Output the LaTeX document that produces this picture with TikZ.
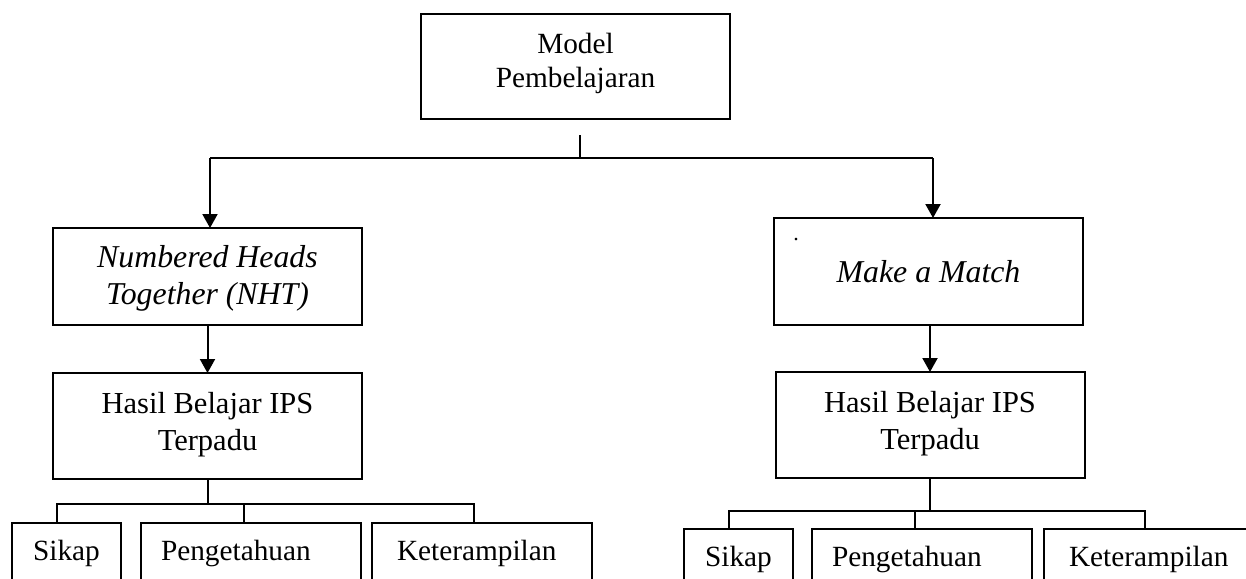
\documentclass[tikz,border=0pt]{standalone}
\usepackage{fontspec}
\setmainfont{Liberation Serif}
\usetikzlibrary{arrows.meta}

\begin{document}
\begin{tikzpicture}[x=1pt, y=-1pt, line width=2pt,
    font=\fontsize{29.3pt}{34pt}\selectfont,
    box/.style={draw, align=center, inner sep=0pt, outer sep=0pt, minimum width=309pt},
    big/.style={font=\fontsize{30.5pt}{37pt}\selectfont},
    slant/.style={font=\fontsize{31.8pt}{37pt}\selectfont\itshape},
    leaf/.style={draw, anchor=north west, align=left, inner xsep=20pt, inner ysep=0pt,
      outer sep=0pt, text height=37pt, text depth=70pt},
    arr/.style={-{Triangle[length=14pt, width=15pt]}}]
  \useasboundingbox (0,0) rectangle (1246,578);
  \clip (0,0) rectangle (1246,578);
  % top
  \node[box, minimum height=105pt, text depth=13pt] (model) at (575.5,66.5) {Model\\Pembelajaran};
  \coordinate (stem) at (580,135);
  \coordinate (jl) at (210,158);
  \coordinate (jr) at (933,158);
  \draw (stem) -- (stem |- jl);
  \draw (jl) -- (jr);
  % left branch
  \node[box, slant, minimum height=97pt, text depth=3.7pt] (nht) at (207.5,276.5) {Numbered Heads\\Together (NHT)};
  \node[box, big, minimum height=106pt, text depth=9.7pt] (hbl) at (207.5,426) {Hasil Belajar IPS\\Terpadu};
  \node[leaf, text width=69pt, align=center] (skl) at (12,523) {Sikap};
  \node[leaf, text width=180pt] (pgl) at (141,523) {Pengetahuan};
  \node[leaf, text width=170pt, inner xsep=25pt] (ktl) at (372,523) {Keterampilan};
  \draw[arr] (jl) -- (jl |- nht.north);
  \draw[arr] (nht.south) -- (hbl.north);
  \draw (hbl.south) -- (hbl.south |- 0,504);
  \draw ([xshift=45pt]skl.north west) -- ++(0,-19) -| ([xshift=102pt]ktl.north west);
  \draw ([xshift=103pt]pgl.north west) -- ++(0,-19);
  % right branch
  \node[box, slant, minimum height=107pt] (mam) at (928.5,271.5) {Make a Match};
  \node[font=\fontsize{22pt}{22pt}\selectfont] (dot) at (796,240) {.};
  \node[box, big, minimum height=106pt, text depth=9.7pt] (hbr) at (930,425) {Hasil Belajar IPS\\Terpadu};
  \node[leaf, text width=69pt, align=center] (skr) at (684,529) {Sikap};
  \node[leaf, text width=180pt] (pgr) at (812,529) {Pengetahuan};
  \node[leaf, text width=170pt, inner xsep=25pt] (ktr) at (1044,529) {Keterampilan};
  \draw[arr] (jr) -- (jr |- mam.north);
  \draw[arr] (hbr.north |- mam.south) -- (hbr.north);
  \draw (hbr.south) -- (hbr.south |- 0,511);
  \draw ([xshift=45pt]skr.north west) -- ++(0,-18) -| ([xshift=101pt]ktr.north west);
  \draw ([xshift=103pt]pgr.north west) -- ++(0,-18);
\end{tikzpicture}
\end{document}
